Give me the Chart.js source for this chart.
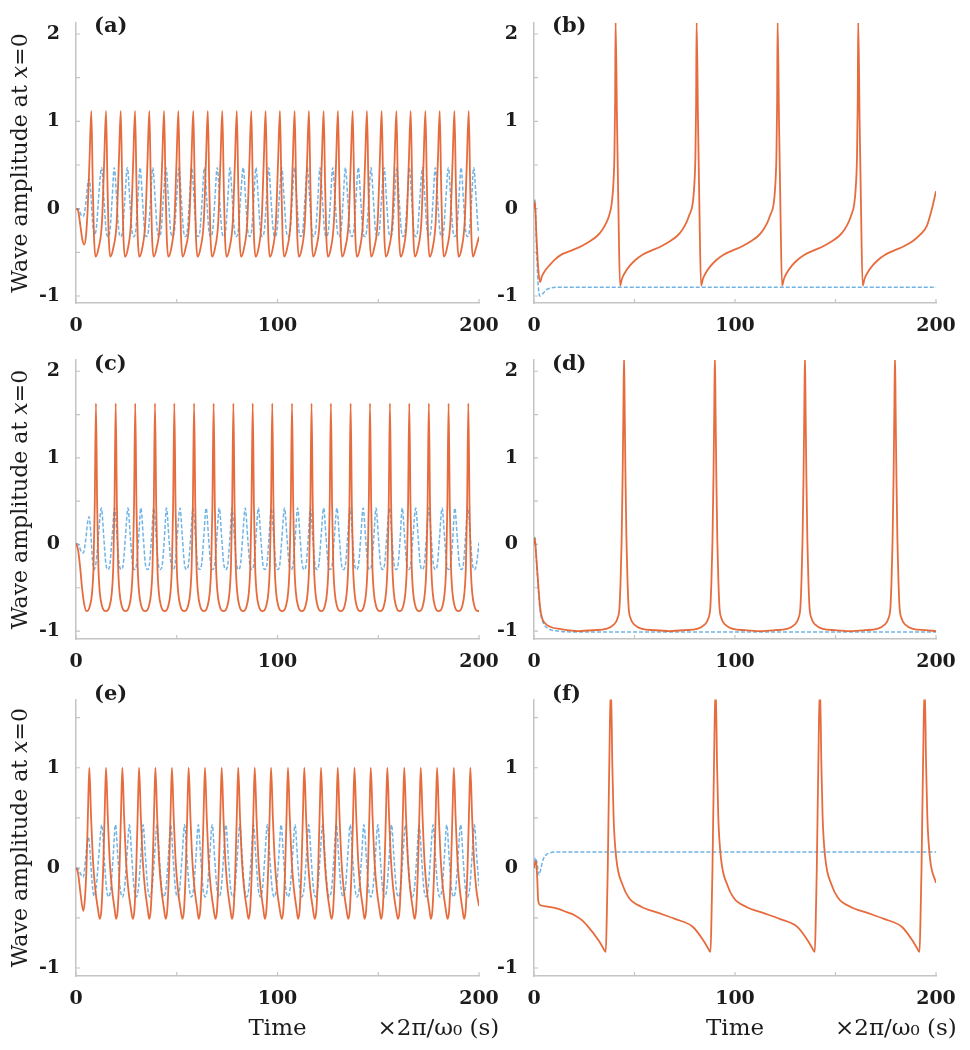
<!DOCTYPE html>
<html>
<head>
<meta charset="utf-8">
<title>Wave amplitude at x=0</title>
<script src="https://cdn.jsdelivr.net/npm/chart.js@4.4.1/dist/chart.umd.min.js"></script>
<style>
  html, body { margin: 0; background: #fff; }
  #fig { position: relative; width: 970px; height: 1050px; overflow: hidden; }
  #fig canvas { position: absolute; }
</style>
</head>
<body>
<div id="fig"></div>
<script>
// --- ticks ---
const xTicks = [0, 50, 100, 150, 200];
const xLabels = ['0', '', '100', '', '200'];
const yTicksTall = [-1, -0.5, 0, 0.5, 1, 1.5, 2];
const yLabelsTall = ['-1', '', '0', '', '1', '', '2'];
const yTicksShort = [-1, -0.5, 0, 0.5, 1, 1.5];
const yLabelsShort = ['-1', '', '0', '', '1', ''];

// --- panel (a) ---
const aRed = [
  [0, 0], [1, -0.02], [2.2, -0.2], [3.2, -0.36], [4.1, -0.41], [5, -0.3], [5.8, 0], [6.7, 0.55],
  [7.6, 1.12], [8.3, 0.3], [8.9, -0.3], [9.7, -0.55], [11.2, -0.45], [12.9, -0.15], [14, 0.55],
  [14.9, 1.12], [15.6, 0.3], [16.2, -0.3], [17, -0.55], [18.5, -0.45], [20.2, -0.15], [21.3, 0.55],
  [22.2, 1.12], [22.9, 0.3], [23.5, -0.3], [24.3, -0.55], [25.8, -0.45], [27.3, -0.15], [28.4, 0.55],
  [29.3, 1.12], [30, 0.3], [30.6, -0.3], [31.4, -0.55], [32.9, -0.45], [34.4, -0.15], [35.5, 0.55],
  [36.4, 1.12], [37.1, 0.3], [37.7, -0.3], [38.5, -0.55], [40, -0.45], [41.7, -0.15], [42.8, 0.55],
  [43.7, 1.12], [44.4, 0.3], [45, -0.3], [45.8, -0.55], [47.3, -0.45], [48.8, -0.15], [49.9, 0.55],
  [50.8, 1.12], [51.5, 0.3], [52.1, -0.3], [52.9, -0.55], [54.4, -0.45], [56.2, -0.15], [57.3, 0.55],
  [58.2, 1.12], [58.9, 0.3], [59.5, -0.3], [60.3, -0.55], [61.8, -0.45], [63.4, -0.15], [64.5, 0.55],
  [65.4, 1.12], [66.1, 0.3], [66.7, -0.3], [67.5, -0.55], [69, -0.45], [70.6, -0.15], [71.7, 0.55],
  [72.6, 1.12], [73.3, 0.3], [73.9, -0.3], [74.7, -0.55], [76.2, -0.45], [77.8, -0.15], [78.9, 0.55],
  [79.8, 1.12], [80.5, 0.3], [81.1, -0.3], [81.9, -0.55], [83.4, -0.45], [85, -0.15], [86.1, 0.55],
  [87, 1.12], [87.7, 0.3], [88.3, -0.3], [89.1, -0.55], [90.6, -0.45], [92.1, -0.15], [93.2, 0.55],
  [94.1, 1.12], [94.8, 0.3], [95.4, -0.3], [96.2, -0.55], [97.7, -0.45], [99.2, -0.15], [100.3, 0.55],
  [101.2, 1.12], [101.9, 0.3], [102.5, -0.3], [103.3, -0.55], [104.8, -0.45], [106.5, -0.15], [107.6, 0.55],
  [108.5, 1.12], [109.2, 0.3], [109.8, -0.3], [110.6, -0.55], [112.1, -0.45], [113.6, -0.15], [114.7, 0.55],
  [115.6, 1.12], [116.3, 0.3], [116.9, -0.3], [117.7, -0.55], [119.2, -0.45], [120.9, -0.15], [122, 0.55],
  [122.9, 1.12], [123.6, 0.3], [124.2, -0.3], [125, -0.55], [126.5, -0.45], [128, -0.15], [129.1, 0.55],
  [130, 1.12], [130.7, 0.3], [131.3, -0.3], [132.1, -0.55], [133.6, -0.45], [135.3, -0.15], [136.4, 0.55],
  [137.3, 1.12], [138, 0.3], [138.6, -0.3], [139.4, -0.55], [140.9, -0.45], [142.4, -0.15], [143.5, 0.55],
  [144.4, 1.12], [145.1, 0.3], [145.7, -0.3], [146.5, -0.55], [148, -0.45], [149.7, -0.15], [150.8, 0.55],
  [151.7, 1.12], [152.4, 0.3], [153, -0.3], [153.8, -0.55], [155.3, -0.45], [157, -0.15], [158.1, 0.55],
  [159, 1.12], [159.7, 0.3], [160.3, -0.3], [161.1, -0.55], [162.6, -0.45], [164.1, -0.15], [165.2, 0.55],
  [166.1, 1.12], [166.8, 0.3], [167.4, -0.3], [168.2, -0.55], [169.7, -0.45], [171.4, -0.15], [172.5, 0.55],
  [173.4, 1.12], [174.1, 0.3], [174.7, -0.3], [175.5, -0.55], [177, -0.45], [178.5, -0.15], [179.6, 0.55],
  [180.5, 1.12], [181.2, 0.3], [181.8, -0.3], [182.6, -0.55], [184.1, -0.45], [185.8, -0.15], [186.9, 0.55],
  [187.8, 1.12], [188.5, 0.3], [189.1, -0.3], [189.9, -0.55], [191.4, -0.45], [192.9, -0.15], [194, 0.55],
  [194.9, 1.12], [195.6, 0.3], [196.2, -0.3], [197, -0.55], [198.5, -0.45], [200, -0.32]
];
const aBlue = [
  [0, 0], [1.2, 0], [2.5, -0.07], [3.6, -0.09], [4.8, 0.05], [5.8, 0.28], [6.5, 0.34], [7.3, 0.2], [8.2, -0.15], [9.2, -0.3], [10.2, -0.2], [11.3, 0.15],
  [12.7, 0.47], [13.9, 0.1], [14.9, -0.24], [15.9, -0.32], [16.9, -0.24], [17.9, 0.1],
  [19, 0.47], [20.2, 0.1], [21.2, -0.24], [22.2, -0.32], [23.2, -0.24], [24.2, 0.1],
  [25.5, 0.47], [26.7, 0.1], [27.7, -0.24], [28.7, -0.32], [29.7, -0.24], [30.7, 0.1],
  [31.8, 0.47], [33, 0.1], [34, -0.24], [35, -0.32], [36, -0.24], [37, 0.1],
  [38.1, 0.47], [39.3, 0.1], [40.3, -0.24], [41.3, -0.32], [42.3, -0.24], [43.3, 0.1],
  [44.7, 0.47], [45.9, 0.1], [46.9, -0.24], [47.9, -0.32], [48.9, -0.24], [49.9, 0.1],
  [51.1, 0.47], [52.3, 0.1], [53.3, -0.24], [54.3, -0.32], [55.3, -0.24], [56.3, 0.1],
  [57.4, 0.47], [58.6, 0.1], [59.6, -0.24], [60.6, -0.32], [61.6, -0.24], [62.6, 0.1],
  [63.7, 0.47], [64.9, 0.1], [65.9, -0.24], [66.9, -0.32], [67.9, -0.24], [68.9, 0.1],
  [70.1, 0.47], [71.3, 0.1], [72.3, -0.24], [73.3, -0.32], [74.3, -0.24], [75.3, 0.1],
  [76.4, 0.47], [77.6, 0.1], [78.6, -0.24], [79.6, -0.32], [80.6, -0.24], [81.6, 0.1],
  [83, 0.47], [84.2, 0.1], [85.2, -0.24], [86.2, -0.32], [87.2, -0.24], [88.2, 0.1],
  [89.3, 0.47], [90.5, 0.1], [91.5, -0.24], [92.5, -0.32], [93.5, -0.24], [94.5, 0.1],
  [95.6, 0.47], [96.8, 0.1], [97.8, -0.24], [98.8, -0.32], [99.8, -0.24], [100.8, 0.1],
  [102.1, 0.47], [103.3, 0.1], [104.3, -0.24], [105.3, -0.32], [106.3, -0.24], [107.3, 0.1],
  [108.4, 0.47], [109.6, 0.1], [110.6, -0.24], [111.6, -0.32], [112.6, -0.24], [113.6, 0.1],
  [114.8, 0.47], [116, 0.1], [117, -0.24], [118, -0.32], [119, -0.24], [120, 0.1],
  [121.1, 0.47], [122.3, 0.1], [123.3, -0.24], [124.3, -0.32], [125.3, -0.24], [126.3, 0.1],
  [127.4, 0.47], [128.6, 0.1], [129.6, -0.24], [130.6, -0.32], [131.6, -0.24], [132.6, 0.1],
  [133.7, 0.47], [134.9, 0.1], [135.9, -0.24], [136.9, -0.32], [137.9, -0.24], [138.9, 0.1],
  [140.1, 0.47], [141.3, 0.1], [142.3, -0.24], [143.3, -0.32], [144.3, -0.24], [145.3, 0.1],
  [146.4, 0.47], [147.6, 0.1], [148.6, -0.24], [149.6, -0.32], [150.6, -0.24], [151.6, 0.1],
  [152.9, 0.47], [154.1, 0.1], [155.1, -0.24], [156.1, -0.32], [157.1, -0.24], [158.1, 0.1],
  [159.2, 0.47], [160.4, 0.1], [161.4, -0.24], [162.4, -0.32], [163.4, -0.24], [164.4, 0.1],
  [165.4, 0.47], [166.6, 0.1], [167.6, -0.24], [168.6, -0.32], [169.6, -0.24], [170.6, 0.1],
  [172, 0.47], [173.2, 0.1], [174.2, -0.24], [175.2, -0.32], [176.2, -0.24], [177.2, 0.1],
  [178.3, 0.47], [179.5, 0.1], [180.5, -0.24], [181.5, -0.32], [182.5, -0.24], [183.5, 0.1],
  [184.8, 0.47], [186, 0.1], [187, -0.24], [188, -0.32], [189, -0.24], [190, 0.1],
  [191.1, 0.47], [192.3, 0.1], [193.3, -0.24], [194.3, -0.32], [195.3, -0.24], [196.3, 0.1],
  [197.4, 0.47], [198.6, 0.1], [199.6, -0.24], [200, -0.27]
];

// --- panel (b) ---
const bRed = [
  [0, 0], [0.4, 0.08], [1.2, -0.3], [2, -0.65], [3, -0.84], [4, -0.77], [5.5, -0.71], [8, -0.64], [10.5, -0.58], [14, -0.52], [18.5, -0.48], [23.5, -0.43],
  [28, -0.37], [31.5, -0.31], [34, -0.24], [36, -0.16], [37.5, -0.07], [38.6, 0.05], [39.4, 0.25], [40, 0.6], [40.35, 1.2],
  [40.6, 2.15], [41.3, 1], [42, 0], [42.8, -0.88], [43.8, -0.8], [45.3, -0.73], [47.8, -0.65], [50.3, -0.59], [53.8, -0.53], [58.3, -0.48], [63.3, -0.43],
  [67.8, -0.37], [71.3, -0.31], [73.8, -0.24], [75.8, -0.16], [77.3, -0.07], [78.9, 0.05], [79.7, 0.25], [80.3, 0.6], [80.65, 1.2],
  [80.9, 2.15], [81.6, 1], [82.3, 0], [83.1, -0.88], [84.1, -0.8], [85.6, -0.73], [88.1, -0.65], [90.6, -0.59], [94.1, -0.53], [98.6, -0.48], [103.6, -0.43],
  [108.1, -0.37], [111.6, -0.31], [114.1, -0.24], [116.1, -0.16], [117.6, -0.07], [119.2, 0.05], [120, 0.25], [120.6, 0.6], [120.95, 1.2],
  [121.2, 2.15], [121.9, 1], [122.6, 0], [123.4, -0.88], [124.4, -0.8], [125.9, -0.73], [128.4, -0.65], [130.9, -0.59], [134.4, -0.53], [138.9, -0.48], [143.9, -0.43],
  [148.4, -0.37], [151.9, -0.31], [154.4, -0.24], [156.4, -0.16], [157.9, -0.07], [159.3, 0.05], [160.1, 0.25], [160.7, 0.6], [161.05, 1.2],
  [161.3, 2.15], [162, 1], [162.7, 0], [163.5, -0.88], [164.5, -0.8], [166, -0.73], [168.5, -0.65], [171, -0.59], [174.5, -0.53], [179, -0.48], [184, -0.43],
  [188.5, -0.37], [192, -0.3], [195.4, -0.2], [198, 0], [200, 0.2]
];
const bBlue = [
  [0, 0], [0.5, 0.1], [1.2, -0.4], [2, -0.85], [3, -1], [4.5, -0.97], [6, -0.93], [8, -0.91], [11, -0.9], [20, -0.9], [200, -0.9]
];

// --- panel (c) ---
const cRed = [
  [0, 0.01], [1, -0.06], [2, -0.25], [3, -0.5], [4, -0.68], [5.2, -0.77], [6.9, -0.71], [8, -0.55], [8.7, -0.25], [9.3, 0.45],
  [9.9, 1.63], [10.5, 0.45], [11.1, -0.25], [11.8, -0.55], [12.9, -0.71], [14.8, -0.77], [16.7, -0.71], [17.8, -0.55], [18.5, -0.25], [19.1, 0.45],
  [19.7, 1.63], [20.3, 0.45], [20.9, -0.25], [21.6, -0.55], [22.7, -0.71], [24.6, -0.77], [26.4, -0.71], [27.5, -0.55], [28.2, -0.25], [28.8, 0.45],
  [29.4, 1.63], [30, 0.45], [30.6, -0.25], [31.3, -0.55], [32.4, -0.71], [34.3, -0.77], [36.2, -0.71], [37.3, -0.55], [38, -0.25], [38.6, 0.45],
  [39.2, 1.63], [39.8, 0.45], [40.4, -0.25], [41.1, -0.55], [42.2, -0.71], [44, -0.77], [45.8, -0.71], [46.9, -0.55], [47.6, -0.25], [48.2, 0.45],
  [48.8, 1.63], [49.4, 0.45], [50, -0.25], [50.7, -0.55], [51.8, -0.71], [53.7, -0.77], [55.6, -0.71], [56.7, -0.55], [57.4, -0.25], [58, 0.45],
  [58.6, 1.63], [59.2, 0.45], [59.8, -0.25], [60.5, -0.55], [61.6, -0.71], [63.5, -0.77], [65.3, -0.71], [66.4, -0.55], [67.1, -0.25], [67.7, 0.45],
  [68.3, 1.63], [68.9, 0.45], [69.5, -0.25], [70.2, -0.55], [71.3, -0.71], [73.2, -0.77], [75.1, -0.71], [76.2, -0.55], [76.9, -0.25], [77.5, 0.45],
  [78.1, 1.63], [78.7, 0.45], [79.3, -0.25], [80, -0.55], [81.1, -0.71], [82.9, -0.77], [84.7, -0.71], [85.8, -0.55], [86.5, -0.25], [87.1, 0.45],
  [87.7, 1.63], [88.3, 0.45], [88.9, -0.25], [89.6, -0.55], [90.7, -0.71], [92.6, -0.77], [94.4, -0.71], [95.5, -0.55], [96.2, -0.25], [96.8, 0.45],
  [97.4, 1.63], [98, 0.45], [98.6, -0.25], [99.3, -0.55], [100.4, -0.71], [102.3, -0.77], [104.2, -0.71], [105.3, -0.55], [106, -0.25], [106.6, 0.45],
  [107.2, 1.63], [107.8, 0.45], [108.4, -0.25], [109.1, -0.55], [110.2, -0.71], [112.1, -0.77], [113.9, -0.71], [115, -0.55], [115.7, -0.25], [116.3, 0.45],
  [116.9, 1.63], [117.5, 0.45], [118.1, -0.25], [118.8, -0.55], [119.9, -0.71], [121.7, -0.77], [123.5, -0.71], [124.6, -0.55], [125.3, -0.25], [125.9, 0.45],
  [126.5, 1.63], [127.1, 0.45], [127.7, -0.25], [128.4, -0.55], [129.5, -0.71], [131.4, -0.77], [133.3, -0.71], [134.4, -0.55], [135.1, -0.25], [135.7, 0.45],
  [136.3, 1.63], [136.9, 0.45], [137.5, -0.25], [138.2, -0.55], [139.3, -0.71], [141.1, -0.77], [142.9, -0.71], [144, -0.55], [144.7, -0.25], [145.3, 0.45],
  [145.9, 1.63], [146.5, 0.45], [147.1, -0.25], [147.8, -0.55], [148.9, -0.71], [150.9, -0.77], [152.8, -0.71], [153.9, -0.55], [154.6, -0.25], [155.2, 0.45],
  [155.8, 1.63], [156.4, 0.45], [157, -0.25], [157.7, -0.55], [158.8, -0.71], [160.6, -0.77], [162.4, -0.71], [163.5, -0.55], [164.2, -0.25], [164.8, 0.45],
  [165.4, 1.63], [166, 0.45], [166.6, -0.25], [167.3, -0.55], [168.4, -0.71], [170.3, -0.77], [172.1, -0.71], [173.2, -0.55], [173.9, -0.25], [174.5, 0.45],
  [175.1, 1.63], [175.7, 0.45], [176.3, -0.25], [177, -0.55], [178.1, -0.71], [180, -0.77], [181.9, -0.71], [183, -0.55], [183.7, -0.25], [184.3, 0.45],
  [184.9, 1.63], [185.5, 0.45], [186.1, -0.25], [186.8, -0.55], [187.9, -0.71], [189.8, -0.77], [191.7, -0.71], [192.8, -0.55], [193.5, -0.25], [194.1, 0.45],
  [194.7, 1.63], [195.3, 0.45], [195.9, -0.25], [196.6, -0.55], [197.7, -0.71], [199.6, -0.77], [200, -0.76]
];
const cBlue = [
  [0, 0.01], [1.2, 0], [2.5, -0.08], [3.6, -0.1], [4.8, 0.05], [5.8, 0.26], [6.5, 0.32], [7.3, 0.15], [8.2, -0.18], [9, -0.29], [10, -0.2], [11.2, 0.12],
  [12.6, 0.42], [13.8, 0.08], [14.8, -0.22], [15.9, -0.29], [16.9, -0.22], [17.9, 0.08],
  [19.2, 0.42], [20.4, 0.08], [21.4, -0.22], [22.5, -0.29], [23.5, -0.22], [24.5, 0.08],
  [25.8, 0.42], [27, 0.08], [28, -0.22], [29.1, -0.29], [30.1, -0.22], [31.1, 0.08],
  [32.2, 0.42], [33.4, 0.08], [34.4, -0.22], [35.5, -0.29], [36.5, -0.22], [37.5, 0.08],
  [38.6, 0.42], [39.8, 0.08], [40.8, -0.22], [41.9, -0.29], [42.9, -0.22], [43.9, 0.08],
  [44.9, 0.42], [46.1, 0.08], [47.1, -0.22], [48.2, -0.29], [49.2, -0.22], [50.2, 0.08],
  [51.6, 0.42], [52.8, 0.08], [53.8, -0.22], [54.9, -0.29], [55.9, -0.22], [56.9, 0.08],
  [58.1, 0.42], [59.3, 0.08], [60.3, -0.22], [61.4, -0.29], [62.4, -0.22], [63.4, 0.08],
  [64.6, 0.42], [65.8, 0.08], [66.8, -0.22], [67.9, -0.29], [68.9, -0.22], [69.9, 0.08],
  [71.1, 0.42], [72.3, 0.08], [73.3, -0.22], [74.4, -0.29], [75.4, -0.22], [76.4, 0.08],
  [77.4, 0.42], [78.6, 0.08], [79.6, -0.22], [80.7, -0.29], [81.7, -0.22], [82.7, 0.08],
  [84, 0.42], [85.2, 0.08], [86.2, -0.22], [87.3, -0.29], [88.3, -0.22], [89.3, 0.08],
  [90.5, 0.42], [91.7, 0.08], [92.7, -0.22], [93.8, -0.29], [94.8, -0.22], [95.8, 0.08],
  [96.9, 0.42], [98.1, 0.08], [99.1, -0.22], [100.2, -0.29], [101.2, -0.22], [102.2, 0.08],
  [103.5, 0.42], [104.7, 0.08], [105.7, -0.22], [106.8, -0.29], [107.8, -0.22], [108.8, 0.08],
  [110, 0.42], [111.2, 0.08], [112.2, -0.22], [113.3, -0.29], [114.3, -0.22], [115.3, 0.08],
  [116.3, 0.42], [117.5, 0.08], [118.5, -0.22], [119.6, -0.29], [120.6, -0.22], [121.6, 0.08],
  [122.9, 0.42], [124.1, 0.08], [125.1, -0.22], [126.2, -0.29], [127.2, -0.22], [128.2, 0.08],
  [129.5, 0.42], [130.7, 0.08], [131.7, -0.22], [132.8, -0.29], [133.8, -0.22], [134.8, 0.08],
  [136, 0.42], [137.2, 0.08], [138.2, -0.22], [139.3, -0.29], [140.3, -0.22], [141.3, 0.08],
  [142.5, 0.42], [143.7, 0.08], [144.7, -0.22], [145.8, -0.29], [146.8, -0.22], [147.8, 0.08],
  [148.9, 0.42], [150.1, 0.08], [151.1, -0.22], [152.2, -0.29], [153.2, -0.22], [154.2, 0.08],
  [155.6, 0.42], [156.8, 0.08], [157.8, -0.22], [158.9, -0.29], [159.9, -0.22], [160.9, 0.08],
  [161.9, 0.42], [163.1, 0.08], [164.1, -0.22], [165.2, -0.29], [166.2, -0.22], [167.2, 0.08],
  [168.6, 0.42], [169.8, 0.08], [170.8, -0.22], [171.9, -0.29], [172.9, -0.22], [173.9, 0.08],
  [175.1, 0.42], [176.3, 0.08], [177.3, -0.22], [178.4, -0.29], [179.4, -0.22], [180.4, 0.08],
  [181.7, 0.42], [182.9, 0.08], [183.9, -0.22], [185, -0.29], [186, -0.22], [187, 0.08],
  [188, 0.42], [189.2, 0.08], [190.2, -0.22], [191.3, -0.29], [192.3, -0.22], [193.3, 0.08],
  [194.5, 0.42], [195.7, 0.08], [196.7, -0.22], [197.8, -0.29], [198.8, -0.22], [200, 0.02]
];

// --- panel (d) ---
const dRed = [
  [0, 0], [0.4, 0.07], [1, -0.1], [1.7, -0.33], [3, -0.72], [4, -0.85], [5.5, -0.91], [8, -0.95], [14, -0.98], [22, -1],
  [29.8, -0.99], [35.8, -0.975], [39.5, -0.93], [41.6, -0.85], [42.55, -0.72], [43.1, -0.4], [43.6, 0.05], [44.1, 0.8], [44.45, 1.5],
  [44.8, 2.2], [45.15, 1.5], [45.5, 0.8], [46, 0.05], [46.5, -0.4], [47.05, -0.72], [48, -0.85], [50.1, -0.93], [53.8, -0.975], [59.8, -0.99], [67.4, -1],
  [75, -0.99], [81, -0.975], [84.7, -0.93], [86.8, -0.85], [87.75, -0.72], [88.3, -0.4], [88.8, 0.05], [89.3, 0.8], [89.65, 1.5],
  [90, 2.2], [90.35, 1.5], [90.7, 0.8], [91.2, 0.05], [91.7, -0.4], [92.25, -0.72], [93.2, -0.85], [95.3, -0.93], [99, -0.975], [105, -0.99], [112.4, -1],
  [119.8, -0.99], [125.8, -0.975], [129.5, -0.93], [131.6, -0.85], [132.55, -0.72], [133.1, -0.4], [133.6, 0.05], [134.1, 0.8], [134.45, 1.5],
  [134.8, 2.2], [135.15, 1.5], [135.5, 0.8], [136, 0.05], [136.5, -0.4], [137.05, -0.72], [138, -0.85], [140.1, -0.93], [143.8, -0.975], [149.8, -0.99], [157.2, -1],
  [164.6, -0.99], [170.6, -0.975], [174.3, -0.93], [176.4, -0.85], [177.35, -0.72], [177.9, -0.4], [178.4, 0.05], [178.9, 0.8], [179.25, 1.5],
  [179.6, 2.2], [179.95, 1.5], [180.3, 0.8], [180.8, 0.05], [181.3, -0.4], [181.85, -0.72], [182.8, -0.85], [184.9, -0.93], [188.6, -0.975], [194.6, -0.99], [200, -1]
];
const dBlue = [
  [0, 0], [0.4, 0.08], [1, -0.1], [1.7, -0.35], [3, -0.75], [4.5, -0.9], [7, -0.97], [12, -1], [20, -1.01], [200, -1.01]
];

// --- panel (e) ---
const eRed = [
  [0, 0], [1, -0.05], [2.2, -0.25], [3.6, -0.43], [4.3, -0.34], [5.2, 0], [6, 0.6],
  [6.6, 1], [7.5, 0.5], [8.5, 0.05], [9.6, -0.22], [10.8, -0.4], [11.8, -0.51], [12.6, -0.42], [13.5, 0], [14.3, 0.6],
  [14.9, 1], [15.8, 0.5], [16.8, 0.05], [17.9, -0.22], [19.1, -0.4], [19.9, -0.51], [20.7, -0.42], [21.6, 0], [22.4, 0.6],
  [23, 1], [23.9, 0.5], [24.9, 0.05], [26, -0.22], [27.2, -0.4], [28.2, -0.51], [29, -0.42], [29.9, 0], [30.7, 0.6],
  [31.3, 1], [32.2, 0.5], [33.2, 0.05], [34.3, -0.22], [35.5, -0.4], [36.3, -0.51], [37.1, -0.42], [38, 0], [38.8, 0.6],
  [39.4, 1], [40.3, 0.5], [41.3, 0.05], [42.4, -0.22], [43.6, -0.4], [44.5, -0.51], [45.3, -0.42], [46.2, 0], [47, 0.6],
  [47.6, 1], [48.5, 0.5], [49.5, 0.05], [50.6, -0.22], [51.8, -0.4], [52.8, -0.51], [53.6, -0.42], [54.5, 0], [55.3, 0.6],
  [55.9, 1], [56.8, 0.5], [57.8, 0.05], [58.9, -0.22], [60.1, -0.4], [60.9, -0.51], [61.7, -0.42], [62.6, 0], [63.4, 0.6],
  [64, 1], [64.9, 0.5], [65.9, 0.05], [67, -0.22], [68.2, -0.4], [69.2, -0.51], [70, -0.42], [70.9, 0], [71.7, 0.6],
  [72.3, 1], [73.2, 0.5], [74.2, 0.05], [75.3, -0.22], [76.5, -0.4], [77.4, -0.51], [78.2, -0.42], [79.1, 0], [79.9, 0.6],
  [80.5, 1], [81.4, 0.5], [82.4, 0.05], [83.5, -0.22], [84.7, -0.4], [85.6, -0.51], [86.4, -0.42], [87.3, 0], [88.1, 0.6],
  [88.7, 1], [89.6, 0.5], [90.6, 0.05], [91.7, -0.22], [92.9, -0.4], [93.7, -0.51], [94.5, -0.42], [95.4, 0], [96.2, 0.6],
  [96.8, 1], [97.7, 0.5], [98.7, 0.05], [99.8, -0.22], [101, -0.4], [102.1, -0.51], [102.9, -0.42], [103.8, 0], [104.6, 0.6],
  [105.2, 1], [106.1, 0.5], [107.1, 0.05], [108.2, -0.22], [109.4, -0.4], [110.2, -0.51], [111, -0.42], [111.9, 0], [112.7, 0.6],
  [113.3, 1], [114.2, 0.5], [115.2, 0.05], [116.3, -0.22], [117.5, -0.4], [118.5, -0.51], [119.3, -0.42], [120.2, 0], [121, 0.6],
  [121.6, 1], [122.5, 0.5], [123.5, 0.05], [124.6, -0.22], [125.8, -0.4], [126.8, -0.51], [127.6, -0.42], [128.5, 0], [129.3, 0.6],
  [129.9, 1], [130.8, 0.5], [131.8, 0.05], [132.9, -0.22], [134.1, -0.4], [135.1, -0.51], [135.9, -0.42], [136.8, 0], [137.6, 0.6],
  [138.2, 1], [139.1, 0.5], [140.1, 0.05], [141.2, -0.22], [142.4, -0.4], [143.2, -0.51], [144, -0.42], [144.9, 0], [145.7, 0.6],
  [146.3, 1], [147.2, 0.5], [148.2, 0.05], [149.3, -0.22], [150.5, -0.4], [151.4, -0.51], [152.2, -0.42], [153.1, 0], [153.9, 0.6],
  [154.5, 1], [155.4, 0.5], [156.4, 0.05], [157.5, -0.22], [158.7, -0.4], [159.8, -0.51], [160.6, -0.42], [161.5, 0], [162.3, 0.6],
  [162.9, 1], [163.8, 0.5], [164.8, 0.05], [165.9, -0.22], [167.1, -0.4], [168, -0.51], [168.8, -0.42], [169.7, 0], [170.5, 0.6],
  [171.1, 1], [172, 0.5], [173, 0.05], [174.1, -0.22], [175.3, -0.4], [176.1, -0.51], [176.9, -0.42], [177.8, 0], [178.6, 0.6],
  [179.2, 1], [180.1, 0.5], [181.1, 0.05], [182.2, -0.22], [183.4, -0.4], [184.4, -0.51], [185.2, -0.42], [186.1, 0], [186.9, 0.6],
  [187.5, 1], [188.4, 0.5], [189.4, 0.05], [190.5, -0.22], [191.7, -0.4], [192.6, -0.51], [193.4, -0.42], [194.3, 0], [195.1, 0.6],
  [195.7, 1], [196.6, 0.5], [197.6, 0.05], [198.7, -0.22], [200, -0.38]
];
const eBlue = [
  [0, 0], [1.2, -0.01], [2.5, -0.07], [3.6, -0.09], [4.8, 0.1], [5.6, 0.27], [6.2, 0.31], [7, 0.15], [8, -0.15], [9, -0.28], [10, -0.2], [11.3, 0.12],
  [12.8, 0.43], [14, 0.1], [15.1, -0.2], [16.2, -0.29], [17.3, -0.2], [18.4, 0.1],
  [19.6, 0.43], [20.8, 0.1], [21.9, -0.2], [23, -0.29], [24.1, -0.2], [25.2, 0.1],
  [26.5, 0.43], [27.7, 0.1], [28.8, -0.2], [29.9, -0.29], [31, -0.2], [32.1, 0.1],
  [33.3, 0.43], [34.5, 0.1], [35.6, -0.2], [36.7, -0.29], [37.8, -0.2], [38.9, 0.1],
  [40.2, 0.43], [41.4, 0.1], [42.5, -0.2], [43.6, -0.29], [44.7, -0.2], [45.8, 0.1],
  [47, 0.43], [48.2, 0.1], [49.3, -0.2], [50.4, -0.29], [51.5, -0.2], [52.6, 0.1],
  [53.9, 0.43], [55.1, 0.1], [56.2, -0.2], [57.3, -0.29], [58.4, -0.2], [59.5, 0.1],
  [60.7, 0.43], [61.9, 0.1], [63, -0.2], [64.1, -0.29], [65.2, -0.2], [66.3, 0.1],
  [67.6, 0.43], [68.8, 0.1], [69.9, -0.2], [71, -0.29], [72.1, -0.2], [73.2, 0.1],
  [74.4, 0.43], [75.6, 0.1], [76.7, -0.2], [77.8, -0.29], [78.9, -0.2], [80, 0.1],
  [81.3, 0.43], [82.5, 0.1], [83.6, -0.2], [84.7, -0.29], [85.8, -0.2], [86.9, 0.1],
  [88.1, 0.43], [89.3, 0.1], [90.4, -0.2], [91.5, -0.29], [92.6, -0.2], [93.7, 0.1],
  [95, 0.43], [96.2, 0.1], [97.3, -0.2], [98.4, -0.29], [99.5, -0.2], [100.6, 0.1],
  [101.8, 0.43], [103, 0.1], [104.1, -0.2], [105.2, -0.29], [106.3, -0.2], [107.4, 0.1],
  [108.7, 0.43], [109.9, 0.1], [111, -0.2], [112.1, -0.29], [113.2, -0.2], [114.3, 0.1],
  [115.5, 0.43], [116.7, 0.1], [117.8, -0.2], [118.9, -0.29], [120, -0.2], [121.1, 0.1],
  [122.4, 0.43], [123.6, 0.1], [124.7, -0.2], [125.8, -0.29], [126.9, -0.2], [128, 0.1],
  [129.2, 0.43], [130.4, 0.1], [131.5, -0.2], [132.6, -0.29], [133.7, -0.2], [134.8, 0.1],
  [136.1, 0.43], [137.3, 0.1], [138.4, -0.2], [139.5, -0.29], [140.6, -0.2], [141.7, 0.1],
  [142.9, 0.43], [144.1, 0.1], [145.2, -0.2], [146.3, -0.29], [147.4, -0.2], [148.5, 0.1],
  [149.8, 0.43], [151, 0.1], [152.1, -0.2], [153.2, -0.29], [154.3, -0.2], [155.4, 0.1],
  [156.6, 0.43], [157.8, 0.1], [158.9, -0.2], [160, -0.29], [161.1, -0.2], [162.2, 0.1],
  [163.5, 0.43], [164.7, 0.1], [165.8, -0.2], [166.9, -0.29], [168, -0.2], [169.1, 0.1],
  [170.3, 0.43], [171.5, 0.1], [172.6, -0.2], [173.7, -0.29], [174.8, -0.2], [175.9, 0.1],
  [177.2, 0.43], [178.4, 0.1], [179.5, -0.2], [180.6, -0.29], [181.7, -0.2], [182.8, 0.1],
  [184, 0.43], [185.2, 0.1], [186.3, -0.2], [187.4, -0.29], [188.5, -0.2], [189.6, 0.1],
  [190.9, 0.43], [192.1, 0.1], [193.2, -0.2], [194.3, -0.29], [195.4, -0.2], [196.5, 0.1],
  [197.7, 0.43], [198.9, 0.1], [200, -0.18]
];

// --- panel (f) ---
const fRed = [
  [0, 0], [0.5, 0.05], [1, 0.07], [1.6, -0.1], [2.1, -0.33], [3, -0.37], [6, -0.385], [9, -0.395], [12.1, -0.41], [16, -0.44], [20.4, -0.475], [24, -0.525],
  [27, -0.59], [32, -0.72], [34.4, -0.8], [35.7, -0.84], [36.2, -0.5], [36.7, 0], [37.8, 1.49],
  [38.3, 1.8], [39, 1], [39.6, 0.5], [40.9, 0.1], [44.1, -0.17], [47.3, -0.3], [53.6, -0.39], [61.9, -0.45], [70.1, -0.51],
  [79.1, -0.59], [84.1, -0.72], [86.5, -0.8], [87.8, -0.84], [88.3, -0.5], [88.8, 0], [89.9, 1.49],
  [90.4, 1.8], [91.1, 1], [91.7, 0.5], [93, 0.1], [96.2, -0.17], [99.4, -0.3], [105.7, -0.39], [114, -0.45], [122.2, -0.51],
  [131, -0.59], [136, -0.72], [138.4, -0.8], [139.7, -0.84], [140.2, -0.5], [140.7, 0], [141.8, 1.49],
  [142.3, 1.8], [143, 1], [143.6, 0.5], [144.9, 0.1], [148.1, -0.17], [151.3, -0.3], [157.6, -0.39], [165.9, -0.45], [174.1, -0.51],
  [183.1, -0.59], [188.1, -0.72], [190.5, -0.8], [191.8, -0.84], [192.3, -0.5], [192.8, 0], [193.9, 1.49],
  [194.4, 1.8], [195.1, 1], [195.7, 0.5], [197, 0.1], [200, -0.15]
];
const fBlue = [
  [0, 0], [0.7, 0.1], [1.5, 0.05], [2.5, -0.07], [3.5, 0], [4.5, 0.08], [6, 0.13], [8, 0.15], [11, 0.158], [200, 0.158]
];

// --- styling ---
const ink = '#1c1c1c';
const axisGray = '#c4c4c4';
const redLine = 'rgba(228, 96, 46, 0.92)';
const blueLine = 'rgba(104, 176, 228, 0.95)';
const serif = '"DejaVu Serif", "Liberation Serif", serif';

const panels = [
  { tag: '(a)', red: aRed, blue: aBlue, yMin: -1.08, yMax: 2.126, yTicks: yTicksTall, yLabels: yLabelsTall,
    left: 0, top: 0, w: 520, h: 340, pad: { left: 0, top: 23, right: 41, bottom: 0 }, yw: 76, xh: 37, tagDy: 4, yTitle: true },
  { tag: '(b)', red: bRed, blue: bBlue, yMin: -1.08, yMax: 2.126, yTicks: yTicksTall, yLabels: yLabelsTall,
    left: 470, top: 0, w: 500, h: 340, pad: { left: 0, top: 23, right: 34, bottom: 0 }, yw: 64, xh: 37, tagDy: 4 },
  { tag: '(c)', red: cRed, blue: cBlue, yMin: -1.092, yMax: 2.13, yTicks: yTicksTall, yLabels: yLabelsTall,
    left: 0, top: 340, w: 520, h: 340, pad: { left: 0, top: 20, right: 41, bottom: 0 }, yw: 76, xh: 41, tagDy: 5, yTitle: true },
  { tag: '(d)', red: dRed, blue: dBlue, yMin: -1.092, yMax: 2.13, yTicks: yTicksTall, yLabels: yLabelsTall,
    left: 470, top: 340, w: 500, h: 340, pad: { left: 0, top: 20, right: 34, bottom: 0 }, yw: 64, xh: 41, tagDy: 5 },
  { tag: '(e)', red: eRed, blue: eBlue, yMin: -1.08, yMax: 1.683, yTicks: yTicksShort, yLabels: yLabelsShort,
    left: 0, top: 680, w: 520, h: 370, pad: { left: 0, top: 17, right: 41, bottom: 0 }, yw: 76, xh: 74, tagDy: -5, yTitle: true, xTitle: true },
  { tag: '(f)', red: fRed, blue: fBlue, yMin: -1.08, yMax: 1.683, yTicks: yTicksShort, yLabels: yLabelsShort,
    left: 470, top: 680, w: 500, h: 370, pad: { left: 0, top: 17, right: 34, bottom: 0 }, yw: 64, xh: 74, tagDy: -5, xTitle: true }
];

function toPoints(list) {
  return list.map(([x, y]) => ({ x, y }));
}

// axis marks inside the frame, panel tag and the axis titles
function decor(p) {
  return {
    id: 'decor',
    beforeDatasetsDraw(chart) {
      const { ctx, chartArea: a, scales: { x, y } } = chart;
      ctx.save();
      ctx.strokeStyle = axisGray;
      ctx.lineWidth = 1.2;
      ctx.beginPath();
      for (const v of p.yTicks) {
        const py = y.getPixelForValue(v);
        ctx.moveTo(a.left, py);
        ctx.lineTo(a.left + 4, py);
      }
      for (const v of xTicks) {
        const px = x.getPixelForValue(v);
        ctx.moveTo(px, a.bottom);
        ctx.lineTo(px, a.bottom - 4);
      }
      ctx.stroke();
      ctx.restore();
    },
    afterDraw(chart) {
      const { ctx, chartArea: a } = chart;
      ctx.save();
      ctx.fillStyle = ink;
      ctx.textBaseline = 'middle';
      ctx.font = 'bold 21px ' + serif;
      ctx.fillText(p.tag, a.left + 18, a.top + p.tagDy);

      if (p.yTitle) {
        const parts = [['Wave amplitude at ', '22px ' + serif], ['x', 'italic 22px ' + serif], ['=0', '22px ' + serif]];
        let total = 0;
        for (const [t, f] of parts) { ctx.font = f; total += ctx.measureText(t).width; }
        ctx.translate(27, (a.top + a.bottom) / 2);
        ctx.rotate(-Math.PI / 2);
        ctx.textBaseline = 'alphabetic';
        let cx = -total / 2;
        for (const [t, f] of parts) { ctx.font = f; ctx.fillText(t, cx, 0); cx += ctx.measureText(t).width; }
        ctx.setTransform(1, 0, 0, 1, 0, 0);
      }

      if (p.xTitle) {
        const mid = (a.left + a.right) / 2;
        const base = a.bottom + 59;
        ctx.textBaseline = 'alphabetic';
        ctx.font = '23px ' + serif;
        ctx.textAlign = 'center';
        ctx.fillText('Time', mid, base);
        ctx.textAlign = 'left';
        ctx.fillText('×2π/ω₀ (s)', mid + 100, base);
      }
      ctx.restore();
    }
  };
}

const fig = document.getElementById('fig');
const charts = [];

for (const p of panels) {
  const canvas = document.createElement('canvas');
  canvas.width = p.w;
  canvas.height = p.h;
  canvas.style.left = p.left + 'px';
  canvas.style.top = p.top + 'px';
  canvas.style.width = p.w + 'px';
  canvas.style.height = p.h + 'px';
  fig.appendChild(canvas);

  const tickFont = { family: serif, size: 19, weight: 'bold' };

  charts.push(new Chart(canvas, {
    type: 'line',
    data: {
      datasets: [
        {
          label: 'red',
          data: toPoints(p.red),
          borderColor: redLine,
          borderWidth: 1.8,
          pointRadius: 0,
          cubicInterpolationMode: 'monotone',
          fill: false
        },
        {
          label: 'blue',
          data: toPoints(p.blue),
          borderColor: blueLine,
          borderWidth: 1.5,
          borderDash: [4, 2],
          pointRadius: 0,
          cubicInterpolationMode: 'monotone',
          fill: false
        }
      ]
    },
    options: {
      responsive: false,
      animation: false,
      events: [],
      layout: { padding: p.pad },
      plugins: { legend: { display: false }, tooltip: { enabled: false } },
      scales: {
        x: {
          type: 'linear',
          min: 0,
          max: 200,
          afterBuildTicks: (s) => { s.ticks = xTicks.map((v) => ({ value: v })); },
          afterFit: (s) => { s.height = p.xh; },
          grid: { display: false },
          border: { display: true, color: axisGray, width: 1.5 },
          ticks: { autoSkip: false, maxRotation: 0, padding: 4, color: ink, font: tickFont,
                   callback: (v, i) => xLabels[i] }
        },
        y: {
          type: 'linear',
          min: p.yMin,
          max: p.yMax,
          afterBuildTicks: (s) => { s.ticks = p.yTicks.map((v) => ({ value: v })); },
          afterFit: (s) => { s.width = p.yw; },
          grid: { display: false },
          border: { display: true, color: axisGray, width: 1.5 },
          ticks: { autoSkip: false, padding: 8, color: ink, font: tickFont,
                   callback: (v, i) => p.yLabels[i] }
        }
      }
    },
    plugins: [decor(p)]
  }));
}
</script>
</body>
</html>
